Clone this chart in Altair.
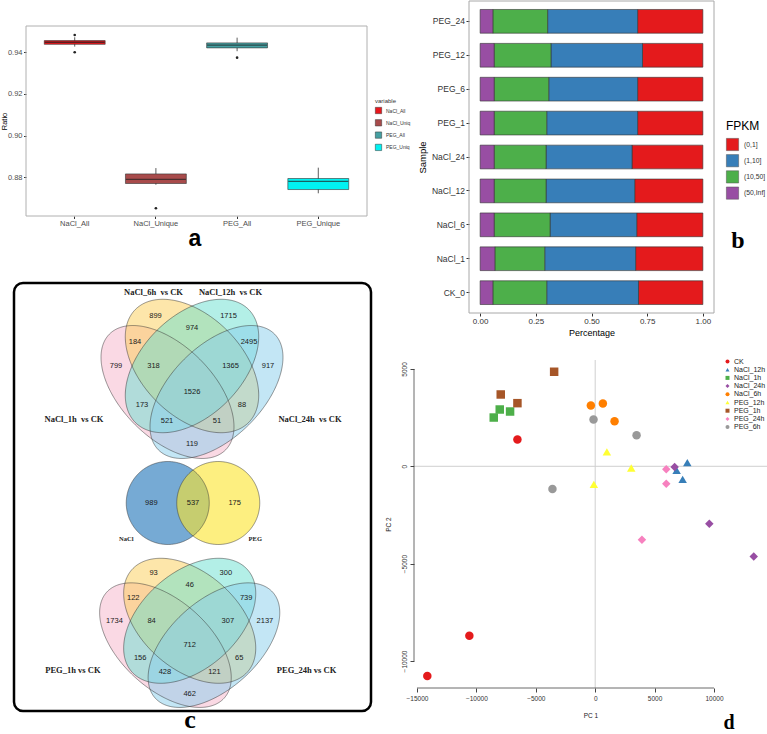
import numpy as np
import pandas as pd
import altair as alt

W, H = 767, 734
SANS = "Liberation Sans"
SERIF = "Liberation Serif"

# ---------------- data ----------------
# (a) mapping ratio: box summaries and outliers per group
box_groups = ["NaCl_All", "NaCl_Unique", "PEG_All", "PEG_Unique"]
box_colors = ["#e8161b", "#a84b4b", "#45a0a2", "#00f2f2"]
box_q1 = [0.9438, 0.8770, 0.9421, 0.8741]
box_median = [0.9448, 0.8790, 0.9434, 0.8780]
box_q3 = [0.9456, 0.8816, 0.9445, 0.8794]
whisker_lo = [0.9427, 0.8764, 0.9405, 0.8723]
whisker_hi = [0.9472, 0.8844, 0.9470, 0.8846]
outlier_group = ["NaCl_All", "NaCl_All", "NaCl_Unique", "PEG_All"]
outlier_value = [0.9483, 0.9400, 0.8651, 0.9374]

# (b) share of genes in each FPKM class per sample
samples = ["PEG_24", "PEG_12", "PEG_6", "PEG_1", "NaCl_24", "NaCl_12", "NaCl_6", "NaCl_1", "CK_0"]
fpkm_classes = ["(0,1]", "(1,10]", "(10,50]", "(50,Inf]"]
fpkm_colors = ["#e41a1c", "#377eb8", "#4daf4a", "#984ea3"]
frac_0_1 = [0.293, 0.271, 0.293, 0.293, 0.318, 0.306, 0.297, 0.302, 0.289]
frac_1_10 = [0.404, 0.411, 0.399, 0.408, 0.386, 0.398, 0.389, 0.408, 0.412]
frac_10_50 = [0.246, 0.255, 0.245, 0.236, 0.233, 0.233, 0.251, 0.224, 0.242]
frac_50_inf = [0.057, 0.063, 0.063, 0.063, 0.063, 0.063, 0.063, 0.066, 0.057]

# (c) DEG counts per Venn region (A=1h, B=6h, C=12h, D=24h)
venn_regions = ["B", "C", "BC", "AB", "CD", "A", "ABC", "BCD", "D", "ABCD", "AC", "BD", "ACD", "ABD", "AD"]
nacl_counts = [899, 1715, 974, 184, 2495, 799, 318, 1365, 917, 1526, 173, 88, 521, 51, 119]
peg_counts = [93, 300, 46, 122, 739, 1734, 84, 307, 2137, 712, 156, 65, 428, 121, 462]
nacl_sets = ["NaCl_1h\u00a0 vs CK", "NaCl_6h\u00a0 vs CK", "NaCl_12h\u00a0 vs CK", "NaCl_24h\u00a0 vs CK"]
peg_sets = ["PEG_1h vs CK", "PEG_24h vs CK"]
pair_sets = ["NaCl", "PEG"]
pair_counts = [989, 537, 175]

# (d) PCA scores
pca_levels = ["CK", "NaCl_12h", "NaCl_1h", "NaCl_24h", "NaCl_6h", "PEG_12h", "PEG_1h", "PEG_24h", "PEG_6h"]
pca_colors = ["#e41a1c", "#377eb8", "#4daf4a", "#984ea3", "#ff7f00", "#ffff33", "#a65628", "#f781bf", "#999999"]
pca_shapes = ["circle", "triangle-up", "square", "diamond", "circle", "triangle-up", "square", "diamond", "circle"]
pca_group = ["CK", "CK", "CK",
             "NaCl_12h", "NaCl_12h", "NaCl_12h",
             "NaCl_1h", "NaCl_1h", "NaCl_1h",
             "NaCl_24h", "NaCl_24h", "NaCl_24h",
             "NaCl_6h", "NaCl_6h", "NaCl_6h",
             "PEG_12h", "PEG_12h", "PEG_12h",
             "PEG_1h", "PEG_1h", "PEG_1h",
             "PEG_24h", "PEG_24h", "PEG_24h",
             "PEG_6h", "PEG_6h", "PEG_6h"]
pca_pc1 = [-6545, -10590, -14129,
           7753, 6854, 7360,
           -8539, -8034, -7163,
           6686, 9607, 13343,
           -365, 646, 1629,
           983, 3034, -112,
           -3455, -7950, -6545,
           5983, 5983, 3933,
           -140, 3483, -3596]
pca_pc2 = [1373, -8700, -10776,
           189, -206, -669,
           2505, 2917, 2814,
           -34, -2952, -4633,
           3123, 3226, 2317,
           738, -86, -927,
           4856, 3689, 3243,
           -154, -892, -3775,
           2402, 1596, -1167]

# ---------------- layout ----------------
A_L, A_R, A_T, A_B = 26, 367, 26, 216
B_L, B_R, B_T, B_B = 469, 714, 1, 313
C_L, C_R, C_T, C_B = 14, 371, 283, 711
D_L, D_R, D_T, D_B = 414, 767, 360, 688
D_XDOM = [-15250, 14460]
D_YDOM = [-11388, 5460]

one_row = pd.DataFrame({"k": [0]})


def frame(x0, x1, y0, y1, **style):
    return alt.Chart(one_row).mark_rect(fillOpacity=0, **style).encode(
        x=alt.value(x0), x2=alt.value(x1), y=alt.value(y0), y2=alt.value(y1))


def letter(ch, x, y, font, size, baseline="middle"):
    return alt.Chart(one_row).mark_text(
        text=ch, font=font, fontSize=size, fontWeight="bold", color="black",
        align="center", baseline=baseline).encode(x=alt.value(x), y=alt.value(y))


# ---------------- panel a ----------------
box_df = pd.DataFrame({"variable": box_groups, "q1": box_q1, "median": box_median,
                       "q3": box_q3, "lo": whisker_lo, "hi": whisker_hi})
out_df = pd.DataFrame({"variable": outlier_group, "value": outlier_value})

ax_scale = alt.Scale(domain=box_groups, range=[A_L, A_R], paddingInner=0, paddingOuter=0.1)
ay_scale = alt.Scale(domain=[0.8614, 0.9526], range=[A_B, A_T], zero=False, nice=False)
ax_axis = alt.Axis(orient="bottom", offset=A_B - H, title=None, labelAngle=0, domain=False,
                   labelFontSize=7.5, labelColor="#4d4d4d", tickSize=2.5, tickColor="#333",
                   labelPadding=1)
ay_axis = alt.Axis(orient="left", offset=-A_L, title="Ratio", values=[0.88, 0.90, 0.92, 0.94],
                   format=".2f", domain=False, labelFontSize=7.5, labelColor="#4d4d4d",
                   tickSize=2.5, tickColor="#333", labelPadding=1.5, titleFontSize=7.5,
                   titleColor="black", titleX=4.5 - A_L, titleY=(A_T + A_B) / 2,
                   titleAngle=270, titleAlign="center", titleBaseline="middle")


def ax_enc():
    return alt.X("variable:N", scale=ax_scale, axis=ax_axis)


def ay_enc(field):
    return alt.Y(field, type="quantitative", scale=ay_scale, axis=ay_axis)


a_whisk = alt.Chart(box_df).mark_rule(color="#333", strokeWidth=0.8).encode(
    x=ax_enc(), y=ay_enc("lo"), y2="hi:Q")
a_box = alt.Chart(box_df).mark_bar(width=alt.RelativeBandSize(0.75), stroke="#333",
                                   strokeWidth=0.6).encode(
    x=ax_enc(), y=ay_enc("q1"), y2="q3:Q",
    color=alt.Color("variable:N", scale=alt.Scale(domain=box_groups, range=box_colors),
                    legend=alt.Legend(orient="none", legendX=375, legendY=98, title="variable",
                                      titleFontSize=6, titleColor="#333", titleFontWeight="normal",
                                      titlePadding=3, labelFontSize=5, labelColor="#333",
                                      labelExpr="replace(datum.label, 'Unique', 'Uniq')",
                                      symbolType="square", symbolSize=40,
                                      symbolStrokeColor="#333", symbolStrokeWidth=0.5,
                                      rowPadding=3.3, labelOffset=4)))
a_med = alt.Chart(box_df).mark_tick(color="#222", thickness=1.3, size=60).encode(
    x=ax_enc(), y=ay_enc("median"))
a_out = alt.Chart(out_df).mark_circle(size=7, color="#222", opacity=1).encode(
    x=ax_enc(), y=ay_enc("value"))
panel_a = alt.layer(a_whisk, a_box, a_med, a_out)

# ---------------- panel b ----------------
rows = []
for i, smp in enumerate(samples):
    parts = [frac_0_1[i], frac_1_10[i], frac_10_50[i], frac_50_inf[i]]
    for rank, (cls, fr) in enumerate(zip(fpkm_classes, parts)):
        rows.append({"Sample": smp, "FPKM": cls, "frac": fr, "rank": 3 - rank})
b_df = pd.DataFrame(rows)

panel_b = alt.Chart(b_df).mark_bar(stroke="#333", strokeWidth=0.6).encode(
    x=alt.X("frac:Q", stack="zero",
            scale=alt.Scale(domain=[-0.05, 1.05], range=[B_L, B_R], nice=False, zero=False),
            axis=alt.Axis(orient="bottom", offset=B_B - H, title="Percentage",
                          values=[0, 0.25, 0.5, 0.75, 1.0], format=".2f", domain=False,
                          labelFontSize=8, labelColor="#333", tickSize=3, tickColor="#333",
                          labelPadding=1.5, titleFontSize=9, titleColor="black", titlePadding=3)),
    y=alt.Y("Sample:N", sort=samples,
            scale=alt.Scale(domain=samples, range=[B_T, B_B], paddingInner=0.3, paddingOuter=0.25),
            axis=alt.Axis(orient="left", offset=-B_L, title="Sample", domain=False,
                          labelFontSize=8.5, labelColor="#333", tickSize=3, tickColor="#333",
                          labelPadding=1.5, titleFontSize=9.5, titleColor="black", titlePadding=4)),
    color=alt.Color("FPKM:N", scale=alt.Scale(domain=fpkm_classes, range=fpkm_colors),
                    legend=alt.Legend(orient="none", legendX=726, legendY=121, title="FPKM",
                                      titleFontSize=12, titleColor="black", titleFontWeight="normal",
                                      titlePadding=5, labelFontSize=6.8, labelColor="#333",
                                      symbolType="square", symbolSize=150,
                                      symbolStrokeColor="#555", symbolStrokeWidth=0.5,
                                      rowPadding=1.2, labelOffset=5)),
    order=alt.Order("rank:Q", sort="ascending"))

# ---------------- panel c: Venn diagrams ----------------
def ellipse_outline(cx, cy, a, b, angle_deg, n=181):
    th = np.radians(angle_deg)
    c, s = np.cos(th), np.sin(th)
    qa = c ** 2 / a ** 2 + s ** 2 / b ** 2
    qb = 2 * c * s * (1 / a ** 2 - 1 / b ** 2)
    qc = s ** 2 / a ** 2 + c ** 2 / b ** 2
    half_w = np.sqrt(4 * qc / (4 * qa * qc - qb ** 2))
    dx = half_w * np.cos(np.linspace(np.pi, 0, n))
    root = np.sqrt(np.clip(qb ** 2 * dx ** 2 - 4 * qc * (qa * dx ** 2 - 1), 0, None))
    return pd.DataFrame({"x": cx + dx,
                         "ylo": cy + (-qb * dx - root) / (2 * qc),
                         "yhi": cy + (-qb * dx + root) / (2 * qc)})


# four-set ellipse template (centre x, centre y, semi-major, semi-minor, angle)
QUAD_SHAPES = [(-24.5, -13.5, 82, 46, -45), (0, 12.5, 80, 50, -45),
               (0, 12.5, 80, 50, 45), (24.5, -13.5, 82, 46, 45)]
QUAD_FILLS = ["#f5b3ca", "#fccd55", "#68dfd0", "#87ceeb"]
QUAD_LABEL_X = [-36.5, 36.5, 0, -57, 57, -76, -38.5, 38.5, 76, 0, -50, 50, -25, 25, 0]
QUAD_LABEL_Y = [63, 63, 50.3, 36.9, 36.9, 12.1, 12.1, 12.1, 12.1, -13.6, -26.9, -26.9, -42.2, -42.2, -65.9]
QUAD_SET_X = [-118, -38.5, 38.5, 118]
QUAD_SET_Y = [-40, 86.5, 86.5, -40]


def venn_layers(shapes, fills, opacity, x_range, y_range, num_x, num_y, counts,
                set_x, set_y, set_names, set_size):
    sx = alt.Scale(domain=[-100, 100], range=x_range, nice=False, zero=False)
    sy = alt.Scale(domain=[-100, 100], range=y_range, nice=False, zero=False)
    outlines = [ellipse_outline(*shp) for shp in shapes]
    layers = []
    for df, col in zip(outlines, fills):
        layers.append(alt.Chart(df).mark_area(fill=col, fillOpacity=opacity, strokeWidth=0).encode(
            x=alt.X("x:Q", scale=sx, axis=None), y=alt.Y("ylo:Q", scale=sy, axis=None), y2="yhi:Q"))
    for df in outlines:
        layers.append(alt.Chart(df).mark_area(fillOpacity=0, stroke="#333", strokeWidth=0.6,
                                              strokeOpacity=0.85).encode(
            x=alt.X("x:Q", scale=sx, axis=None), y=alt.Y("ylo:Q", scale=sy, axis=None), y2="yhi:Q"))
    num_df = pd.DataFrame({"x": num_x, "y": num_y, "n": counts})
    layers.append(alt.Chart(num_df).mark_text(font=SANS, fontSize=7.5, color="#1a1a1a").encode(
        x=alt.X("x:Q", scale=sx, axis=None), y=alt.Y("y:Q", scale=sy, axis=None), text="n:N"))
    set_df = pd.DataFrame({"x": set_x, "y": set_y, "name": set_names})
    layers.append(alt.Chart(set_df).mark_text(font=SERIF, fontWeight="bold", fontSize=set_size,
                                              color="#222").encode(
        x=alt.X("x:Q", scale=sx, axis=None), y=alt.Y("y:Q", scale=sy, axis=None), text="name:N"))
    return alt.layer(*layers)


venn_top = venn_layers(QUAD_SHAPES, QUAD_FILLS, 0.5, [92, 292], [478.5, 278.5],
                       QUAD_LABEL_X, QUAD_LABEL_Y, nacl_counts,
                       QUAD_SET_X, QUAD_SET_Y, nacl_sets, 8.5)
venn_mid = venn_layers([(-25.25, 0, 41.5, 41.5, 0), (25.25, 0, 41.5, 41.5, 0)],
                       ["#1a72b8", "#fce52b"], 0.6, [93, 293], [603, 403],
                       [-41.7, 0, 41.7], [0, 0, 0], pair_counts,
                       [-66.7, 62.3], [-36.3, -36.3], pair_sets, 6.5)
venn_bot = venn_layers(QUAD_SHAPES, QUAD_FILLS, 0.5, [90.7, 288.7], [726.2, 538.8],
                       QUAD_LABEL_X, QUAD_LABEL_Y, peg_counts,
                       [QUAD_SET_X[0], QUAD_SET_X[3]], [QUAD_SET_Y[0], QUAD_SET_Y[3]], peg_sets, 8.5)

# ---------------- panel d: PCA ----------------
pca_df = pd.DataFrame({"group": pca_group, "pc1": pca_pc1, "pc2": pca_pc2})
dx_scale = alt.Scale(domain=D_XDOM, range=[D_L, D_R], nice=False, zero=False)
dy_scale = alt.Scale(domain=D_YDOM, range=[D_B, D_T], nice=False, zero=False)
dx_axis = alt.Axis(orient="bottom", offset=D_B - H, title="PC 1", domain=False,
                   values=[-15000, -10000, -5000, 0, 5000, 10000], format="d",
                   labelFontSize=6.5, labelColor="#333", tickSize=4, tickColor="#444",
                   labelPadding=3, titleFontSize=6.5, titleColor="#222", titlePadding=11)
dy_axis = alt.Axis(orient="left", offset=-D_L, title="PC 2", domain=False,
                   values=[-10000, -5000, 0, 5000], format="d", labelAngle=270,
                   labelAlign="center", labelBaseline="bottom",
                   labelFontSize=6.5, labelColor="#333", tickSize=4, tickColor="#444",
                   labelPadding=3, titleFontSize=6.5, titleColor="#222", titlePadding=10)
d_legend = alt.Legend(orient="none", legendX=724, legendY=358, title=None, labelFontSize=7,
                      labelColor="#222", symbolSize=16, symbolStrokeWidth=0, rowPadding=0.2,
                      labelOffset=3)

d_axis_rules = pd.DataFrame({"x": [-15000, D_XDOM[0]], "x2": [10000, D_XDOM[0]],
                             "y": [D_YDOM[0], -10000], "y2": [D_YDOM[0], 5000]})
d_zero = alt.Chart(one_row).mark_rule(color="#cfcfcf", strokeWidth=1)
d_hline = d_zero.encode(x=alt.X(datum=D_XDOM[0], scale=dx_scale, axis=dx_axis),
                        x2=alt.datum(D_XDOM[1]),
                        y=alt.Y(datum=0, scale=dy_scale, axis=dy_axis))
d_vline = d_zero.encode(x=alt.X(datum=0, scale=dx_scale, axis=dx_axis),
                        y=alt.Y(datum=D_YDOM[0], scale=dy_scale, axis=dy_axis),
                        y2=alt.datum(D_YDOM[1]))
d_axes = alt.Chart(d_axis_rules).mark_rule(color="#444", strokeWidth=0.8).encode(
    x=alt.X("x:Q", scale=dx_scale, axis=dx_axis), x2="x2:Q",
    y=alt.Y("y:Q", scale=dy_scale, axis=dy_axis), y2="y2:Q")
d_points = alt.Chart(pca_df).mark_point(filled=True, size=72, opacity=1).encode(
    x=alt.X("pc1:Q", scale=dx_scale, axis=dx_axis),
    y=alt.Y("pc2:Q", scale=dy_scale, axis=dy_axis),
    color=alt.Color("group:N", scale=alt.Scale(domain=pca_levels, range=pca_colors), legend=d_legend),
    shape=alt.Shape("group:N", scale=alt.Scale(domain=pca_levels, range=pca_shapes), legend=d_legend))
panel_d = alt.layer(d_hline, d_vline, d_axes, d_points)

# ---------------- assemble ----------------
chart = alt.layer(
    panel_a,
    frame(A_L, A_R, A_T, A_B, stroke="#b0b0b0", strokeWidth=1),
    panel_b,
    frame(B_L, B_R, B_T, B_B, stroke="#a8a8a8", strokeWidth=1),
    venn_top, venn_mid, venn_bot,
    frame(C_L, C_R, C_T, C_B, stroke="black", strokeWidth=2.5, cornerRadius=9),
    panel_d,
    letter("a", 195, 239, SANS, 23),
    letter("b", 738, 241, SERIF, 24),
    letter("c", 190, 728, SERIF, 26, baseline="alphabetic"),
    letter("d", 729, 729, SERIF, 20, baseline="alphabetic"),
).resolve_scale(
    x="independent", y="independent", color="independent", shape="independent"
).resolve_axis(
    x="independent", y="independent"
).resolve_legend(
    color="independent", shape="independent"
).properties(
    width=W, height=H, autosize=alt.AutoSizeParams(type="none"), padding=0
).configure_view(
    strokeWidth=0
).configure_axis(
    grid=False, labelFont=SANS, titleFont=SANS, titleFontWeight="normal"
).configure_legend(
    labelFont=SANS, titleFont=SANS
)

chart.save("out.html", embed_options={"renderer": "svg", "actions": False})
